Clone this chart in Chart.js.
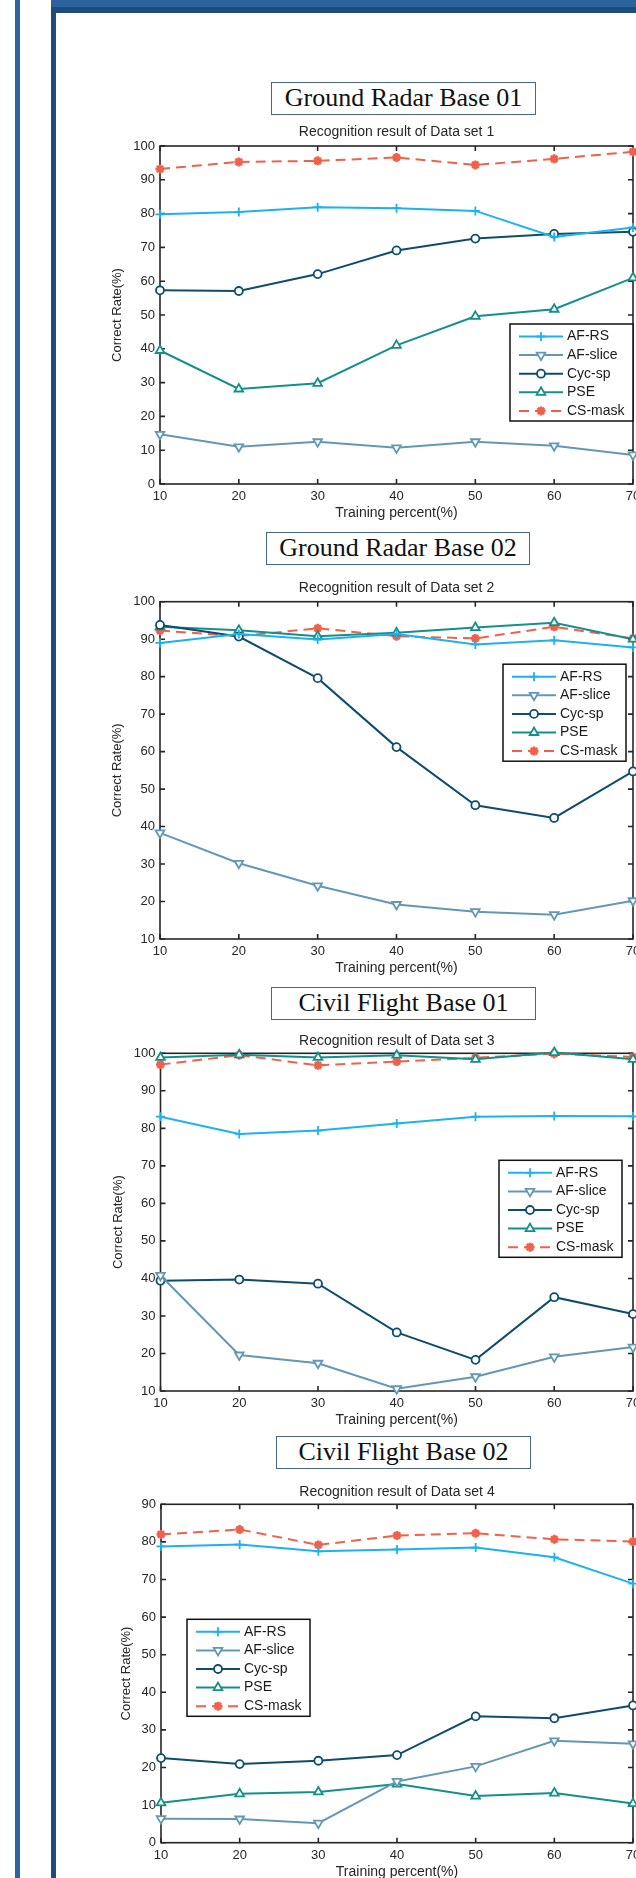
<!DOCTYPE html>
<html>
<head>
<meta charset="utf-8">
<title>Recognition results</title>
<script src="https://cdn.jsdelivr.net/npm/chart.js@4.4.1/dist/chart.umd.min.js"></script>
<style>
html, body { margin: 0; padding: 0; width: 636px; height: 1878px; overflow: hidden; background: #fff; }
.bar { position: absolute; }
.caption {
  position: absolute; box-sizing: border-box; height: 33px; line-height: 30px;
  border: 1.5px solid #46658f; text-align: center; color: #111;
  font-family: "Liberation Serif", "Times New Roman", serif; font-size: 26px;
}
.plot { position: absolute; left: 56px; width: 580px; overflow: hidden; }
.plot canvas { display: block; }
</style>
</head>
<body>
<!-- page frame -->
<div class="bar" style="left:15px;top:0;width:5px;height:1878px;background:#2b64a0"></div>
<div class="bar" style="left:51px;top:0;width:5px;height:1878px;background:#1f4c7c"></div>
<div class="bar" style="left:51px;top:0;width:585px;height:7px;background:#2b63a0"></div>
<div class="bar" style="left:51px;top:7px;width:585px;height:6px;background:#1f4c7c"></div>

<div class="caption" style="left:271px;top:82px;width:265px">Ground Radar Base 01</div>
<div class="caption" style="left:266px;top:532px;width:264px">Ground Radar Base 02</div>
<div class="caption" style="left:271px;top:987px;width:265px">Civil Flight Base 01</div>
<div class="caption" style="left:276px;top:1436px;width:255px">Civil Flight Base 02</div>

<div class="plot" id="wrap1"><canvas id="chart1"></canvas></div>
<div class="plot" id="wrap2"><canvas id="chart2"></canvas></div>
<div class="plot" id="wrap3"><canvas id="chart3"></canvas></div>
<div class="plot" id="wrap4"><canvas id="chart4"></canvas></div>

<script>
// x values (training percent) and method names
var trainPct = [10, 20, 30, 40, 50, 60, 70];
var methods = ['AF-RS', 'AF-slice', 'Cyc-sp', 'PSE', 'CS-mask'];

// Data set 1
var afRs1    = [79.8, 80.5, 81.9, 81.6, 80.8, 73.1, 75.9];
var afSlice1 = [14.7, 11.0, 12.5, 10.7, 12.5, 11.3, 8.6];
var cycSp1   = [57.3, 57.1, 62.1, 69.1, 72.6, 74.0, 74.6];
var pse1     = [39.5, 28.1, 29.8, 41.0, 49.6, 51.7, 61.0];
var csMask1  = [93.2, 95.3, 95.6, 96.6, 94.4, 96.2, 98.3];

// Data set 2
var afRs2    = [89.0, 91.4, 89.9, 91.4, 88.6, 89.7, 87.8];
var afSlice2 = [38.3, 30.2, 24.2, 19.2, 17.3, 16.5, 20.2];
var cycSp2   = [93.8, 90.7, 79.6, 61.2, 45.7, 42.3, 54.7];
var pse2     = [93.3, 92.4, 90.8, 91.7, 93.1, 94.4, 90.0];
var csMask2  = [92.3, 90.8, 92.9, 90.8, 90.2, 93.3, 90.2];

// Data set 3
var afRs3    = [83.1, 78.5, 79.4, 81.3, 83.1, 83.3, 83.2];
var afSlice3 = [40.8, 19.6, 17.4, 10.6, 13.8, 19.1, 21.7];
var cycSp3   = [39.4, 39.7, 38.6, 25.6, 18.3, 35.0, 30.5];
var pse3     = [98.9, 99.6, 98.9, 99.5, 98.4, 100.2, 98.4];
var csMask3  = [97.0, 99.5, 96.8, 97.8, 98.8, 99.9, 99.0];

// Data set 4
var afRs4    = [78.8, 79.3, 77.5, 78.0, 78.5, 75.9, 68.9];
var afSlice4 = [6.4, 6.3, 5.2, 16.3, 20.3, 27.1, 26.3];
var cycSp4   = [22.5, 20.9, 21.8, 23.3, 33.6, 33.1, 36.5];
var pse4     = [10.6, 13.0, 13.5, 15.6, 12.4, 13.2, 10.4];
var csMask4  = [82.0, 83.3, 79.2, 81.7, 82.3, 80.7, 80.1];

// y axis ranges [min, max]
var yRange1 = [0, 100];
var yRange2 = [10, 100];
var yRange3 = [10, 100];
var yRange4 = [0, 90];

var FONT = '"Liberation Sans", Arial, Helvetica, sans-serif';
var INK = '#262626';
Chart.defaults.font.family = FONT;
Chart.defaults.color = INK;

// line look for each method
var styles = [
  { color: '#1cb2f0', point: 'cross',    radius: 4.5, rotation: 0,   bw: 1.8, dash: [] },
  { color: '#6398b4', point: 'triangle', radius: 5,   rotation: 180, bw: 1.8, dash: [] },
  { color: '#0d4d6d', point: 'circle',   radius: 4,   rotation: 0,   bw: 1.8, dash: [] },
  { color: '#14908a', point: 'triangle', radius: 5,   rotation: 0,   bw: 1.8, dash: [] },
  { color: '#f2604a', point: 'star',     radius: 4.5, rotation: 0,   bw: 2.6, dash: [10, 6] }
];

// MATLAB-like box, inward ticks and boxed legend
var matlabAxes = {
  id: 'matlabAxes',
  beforeDatasetsDraw: function (chart) {
    var a = chart.chartArea, ctx = chart.ctx;
    var xs = chart.scales.x, ys = chart.scales.y;
    ctx.save();
    ctx.strokeStyle = INK;
    ctx.lineWidth = 1.6;
    ctx.strokeRect(a.left, a.top, a.right - a.left, a.bottom - a.top);
    ctx.beginPath();
    xs.ticks.forEach(function (t) {
      var px = xs.getPixelForValue(t.value);
      ctx.moveTo(px, a.bottom); ctx.lineTo(px, a.bottom - 5);
      ctx.moveTo(px, a.top); ctx.lineTo(px, a.top + 5);
    });
    ys.ticks.forEach(function (t) {
      var py = ys.getPixelForValue(t.value);
      ctx.moveTo(a.left, py); ctx.lineTo(a.left + 5, py);
      ctx.moveTo(a.right, py); ctx.lineTo(a.right - 5, py);
    });
    ctx.stroke();
    ctx.restore();
  },
  afterDatasetsDraw: function (chart, args, opts) {
    var a = chart.chartArea, ctx = chart.ctx;
    var left = a.left + opts.dx, top = a.top + opts.dy;
    ctx.save();
    ctx.fillStyle = '#fff';
    ctx.fillRect(left, top, 123, 97);
    ctx.strokeStyle = '#111';
    ctx.lineWidth = 1.5;
    ctx.strokeRect(left, top, 123, 97);
    chart.data.datasets.forEach(function (ds, i) {
      var y = top + 12.5 + i * 18.6;
      ctx.setLineDash(ds.borderDash || []);
      ctx.strokeStyle = ds.borderColor;
      ctx.lineWidth = ds.borderWidth;
      ctx.beginPath();
      ctx.moveTo(left + 9, y);
      ctx.lineTo(left + 53, y);
      ctx.stroke();
      ctx.setLineDash([]);
      ctx.fillStyle = ds.pointBackgroundColor;
      ctx.lineWidth = ds.pointBorderWidth;
      Chart.helpers.drawPoint(ctx, {
        pointStyle: ds.pointStyle, radius: ds.pointRadius,
        rotation: ds.pointRotation, borderWidth: ds.pointBorderWidth
      }, left + 31, y);
      ctx.fillStyle = '#1a1a1a';
      ctx.font = '14px ' + FONT;
      ctx.textAlign = 'left';
      ctx.textBaseline = 'middle';
      ctx.fillText(ds.label, left + 57, y);
    });
    ctx.restore();
  }
};

var PLOT_RIGHT = 633;

function makeChart(id, title, series, yRange, g) {
  var top = Math.floor(g.titleCenter - 8.4);
  var height = Math.ceil(g.plotBottom + 37.4 - top);
  var width = 620;
  var wrap = document.getElementById('wrap' + id);
  wrap.style.top = top + 'px';
  wrap.style.height = Math.min(height, 1878 - top) + 'px';
  var canvas = document.getElementById('chart' + id);
  canvas.width = width;
  canvas.height = height;

  var datasets = series.map(function (vals, i) {
    var s = styles[i];
    return {
      label: methods[i],
      data: trainPct.map(function (x, k) { return { x: x, y: vals[k] }; }),
      borderColor: s.color,
      borderWidth: 2,
      borderDash: s.dash,
      pointStyle: s.point,
      pointRadius: s.radius,
      pointRotation: s.rotation,
      pointBorderColor: s.color,
      pointBackgroundColor: '#fff',
      pointBorderWidth: s.bw,
      tension: 0,
      clip: false
    };
  });

  return new Chart(canvas, {
    type: 'line',
    data: { datasets: datasets },
    plugins: [matlabAxes],
    options: {
      responsive: false,
      animation: false,
      devicePixelRatio: 1,
      layout: { padding: { left: 0, right: width - (PLOT_RIGHT - 56), top: 0, bottom: 0 } },
      plugins: {
        legend: { display: false },
        tooltip: { enabled: false },
        matlabAxes: g.legend,
        title: {
          display: true, text: title, color: INK, fullSize: false,
          font: { size: 14, weight: 'normal' },
          padding: { top: g.titleCenter - 8.4 - top, bottom: g.plotTop - g.titleCenter - 8.4 }
        }
      },
      scales: {
        x: {
          type: 'linear', min: 10, max: 70,
          grid: { display: false, drawTicks: false },
          border: { display: false },
          ticks: { stepSize: 10, padding: 5, color: INK, font: { size: 13 } },
          title: {
            display: true, text: 'Training percent(%)', color: INK,
            font: { size: 14 },
            padding: { top: 0, bottom: (top + height) - (g.plotBottom + 29) - 8.4 }
          },
          afterFit: function (s) { s.height = height - (g.plotBottom - top); }
        },
        y: {
          min: yRange[0], max: yRange[1],
          grid: { display: false, drawTicks: false },
          border: { display: false },
          ticks: { stepSize: 10, padding: 5, color: INK, font: { size: 13 } },
          title: {
            display: true, text: 'Correct Rate(%)', color: INK,
            font: { size: 13 },
            padding: { top: g.yTitleX - 56 - 7.8, bottom: 0 }
          },
          afterFit: function (s) { s.width = g.plotLeft - 56; }
        }
      }
    }
  });
}

makeChart(1, 'Recognition result of Data set 1',
  [afRs1, afSlice1, cycSp1, pse1, csMask1], yRange1,
  { titleCenter: 132.5, plotTop: 146, plotBottom: 484, plotLeft: 160, yTitleX: 117, legend: { dx: 350, dy: 178 } });
makeChart(2, 'Recognition result of Data set 2',
  [afRs2, afSlice2, cycSp2, pse2, csMask2], yRange2,
  { titleCenter: 588.3, plotTop: 601.7, plotBottom: 939, plotLeft: 160, yTitleX: 117, legend: { dx: 343, dy: 62.5 } });
makeChart(3, 'Recognition result of Data set 3',
  [afRs3, afSlice3, cycSp3, pse3, csMask3], yRange3,
  { titleCenter: 1040.7, plotTop: 1053.3, plotBottom: 1391, plotLeft: 160.5, yTitleX: 118, legend: { dx: 338.5, dy: 107 } });
makeChart(4, 'Recognition result of Data set 4',
  [afRs4, afSlice4, cycSp4, pse4, csMask4], yRange4,
  { titleCenter: 1491.7, plotTop: 1504.3, plotBottom: 1842.7, plotLeft: 161, yTitleX: 126.5, legend: { dx: 26, dy: 115 } });
</script>
</body>
</html>
